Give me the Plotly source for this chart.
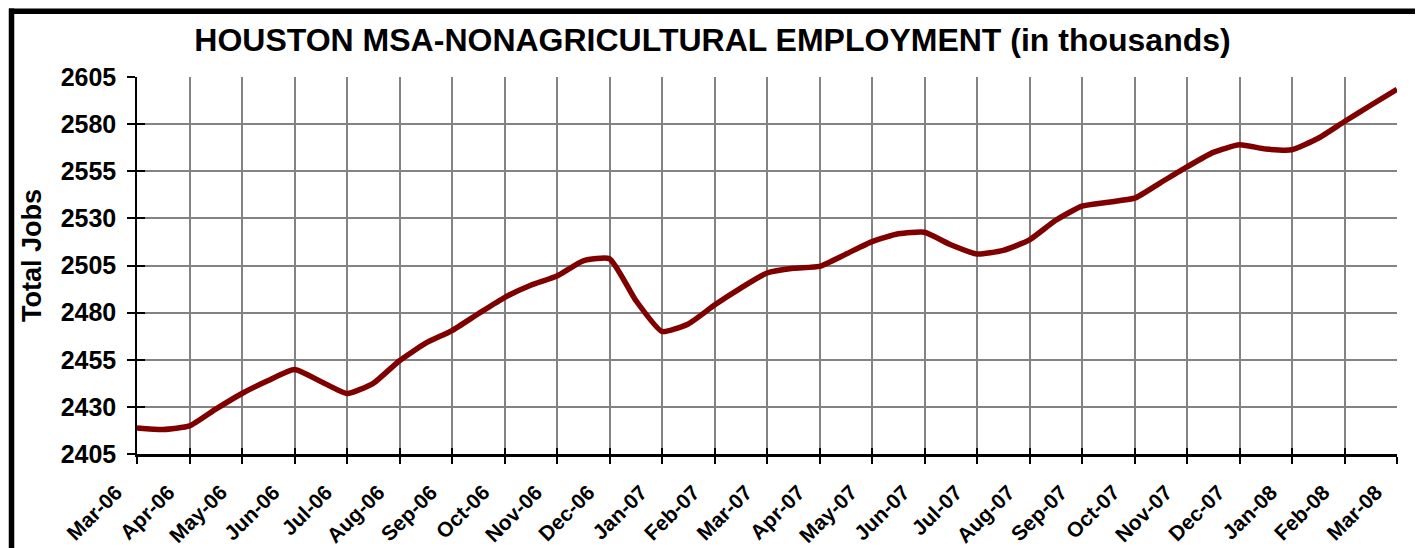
import numpy as np
import plotly.graph_objects as go

# ---- data ----
month_labels = ["Mar-06", "Apr-06", "May-06", "Jun-06", "Jul-06", "Aug-06", "Sep-06",
                "Oct-06", "Nov-06", "Dec-06", "Jan-07", "Feb-07", "Mar-07", "Apr-07",
                "May-07", "Jun-07", "Jul-07", "Aug-07", "Sep-07", "Oct-07", "Nov-07",
                "Dec-07", "Jan-08", "Feb-08", "Mar-08"]
# semi-monthly readings (thousands of jobs), starting Mar-06
total_jobs = [2418.8, 2418.0, 2419.9, 2428.8, 2437.1, 2444.0, 2449.8, 2443.5, 2437.1,
              2442.5, 2454.5, 2463.8, 2470.5, 2479.4, 2488.0, 2494.5, 2499.4, 2507.5,
              2508.6, 2486.5, 2470.0, 2474.0, 2484.0, 2493.0, 2501.0, 2503.5, 2504.5,
              2511.0, 2517.7, 2521.8, 2522.6, 2516.0, 2511.1, 2513.0, 2518.6, 2529.0,
              2536.5, 2538.6, 2540.7, 2549.0, 2557.3, 2565.0, 2569.0, 2566.8, 2566.4,
              2572.5, 2581.4, 2590.0, 2598.5]
y_ticks = [2405, 2430, 2455, 2480, 2505, 2530, 2555, 2580, 2605]

x_pos = np.arange(len(total_jobs)) / 2.0
tick_pos = list(range(len(month_labels)))

# ---- layout constants (figure sits 8px inside the page) ----
W, H = 1415, 540
ML, MR, MT, MB = 129, 26, 69, 94
pw, ph = W - ML - MR, H - MT - MB
FONT = "Liberation Sans, Arial, sans-serif"
GRID = "#838383"

fig = go.Figure()
fig.add_trace(go.Scatter(
    x=x_pos, y=total_jobs, mode="lines",
    line=dict(color="#800000", width=5.5, shape="spline", smoothing=0.5),
    showlegend=False, hoverinfo="skip"))
# invisible trace to activate overlay axes (inner tick marks)
fig.add_trace(go.Scatter(
    x=x_pos, y=total_jobs, mode="lines", xaxis="x2", yaxis="y2",
    line=dict(width=0), opacity=0, showlegend=False, hoverinfo="skip"))

xr = [0, len(month_labels) - 1]
yr = [y_ticks[0], y_ticks[-1]]

fig.update_layout(
    width=W, height=H,
    margin=dict(l=ML, r=MR, t=MT, b=MB, autoexpand=False),
    paper_bgcolor="white", plot_bgcolor="white",
    title=dict(text="HOUSTON MSA-NONAGRICULTURAL EMPLOYMENT (in thousands)",
               x=704.5 / W, xref="container", xanchor="center",
               y=1 - 32 / H, yref="container", yanchor="middle",
               font=dict(family=FONT, size=32, color="black", weight="bold")),
    xaxis=dict(range=xr, tickvals=tick_pos, ticktext=month_labels, tickangle=-45,
               showgrid=True, gridcolor=GRID, gridwidth=2,
               showline=True, linecolor="black", linewidth=2.5,
               ticks="outside", ticklen=7, tickwidth=2, tickcolor="black",
               ticklabelshift=-21, ticklabelstandoff=8,
               tickfont=dict(family=FONT, size=21, color="black", weight="bold"),
               zeroline=False, fixedrange=True),
    yaxis=dict(range=yr, tickvals=y_ticks, showgrid=True, gridcolor=GRID, gridwidth=2,
               showline=True, linecolor="black", linewidth=1.5,
               ticks="outside", ticklen=8, tickwidth=1.5, tickcolor="black",
               ticklabelstandoff=6,
               tickfont=dict(family=FONT, size=25, color="black", weight="bold"),
               zeroline=False, fixedrange=True),
    xaxis2=dict(range=xr, overlaying="x", tickvals=tick_pos, showticklabels=False,
                showgrid=False, showline=False, zeroline=False,
                ticks="inside", ticklen=6, tickwidth=2, tickcolor="black", side="bottom"),
    yaxis2=dict(range=yr, overlaying="y", tickvals=y_ticks, showticklabels=False,
                showgrid=False, showline=False, zeroline=False,
                ticks="inside", ticklen=8, tickwidth=1.5, tickcolor="black", side="left"),
)

def px_to_paper_x(px):
    return (px - ML) / pw

def px_to_paper_y(py):
    return (H - MB - py) / ph

# y-axis title
fig.add_annotation(text="Total Jobs", textangle=-90, showarrow=False,
                   xref="paper", yref="paper",
                   x=px_to_paper_x(24), y=px_to_paper_y(248),
                   xanchor="center", yanchor="middle",
                   font=dict(family=FONT, size=27, color="black", weight="bold"))

# outer black frame (visible on left and top)
fig.add_shape(type="line", xref="paper", yref="paper",
              x0=px_to_paper_x(3.5), x1=px_to_paper_x(3.5),
              y0=px_to_paper_y(0.5), y1=px_to_paper_y(H + 10),
              line=dict(color="black", width=5.5))
fig.add_shape(type="line", xref="paper", yref="paper",
              x0=px_to_paper_x(1), x1=px_to_paper_x(W + 10),
              y0=px_to_paper_y(3.2), y1=px_to_paper_y(3.2),
              line=dict(color="black", width=5.5))

fig.write_html("out.html")
